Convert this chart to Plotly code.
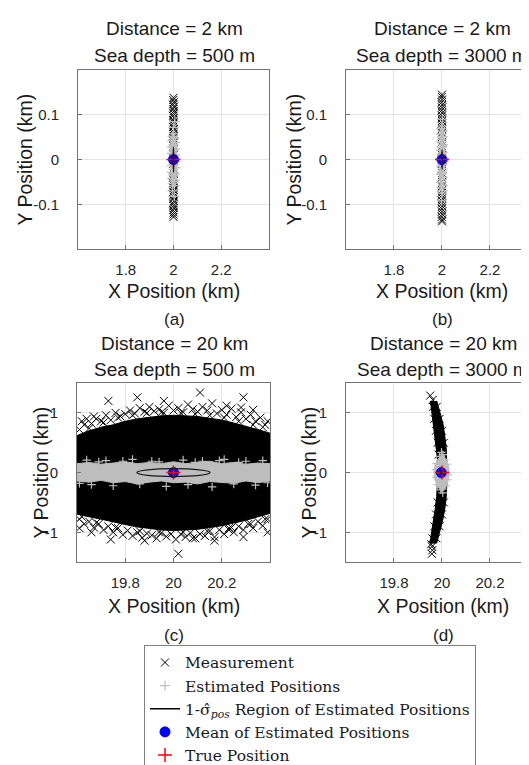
import plotly.graph_objects as go

# ------------------------------------------------------------------ data
PANEL_LABELS = ["(a)", "(b)", "(c)", "(d)"]
TITLE_LINE1 = ["Distance = 2 km", "Distance = 2 km", "Distance = 20 km", "Distance = 20 km"]
TITLE_LINE2 = ["Sea depth = 500 m", "Sea depth = 3000 m", "Sea depth = 500 m", "Sea depth = 3000 m"]

TRUE_X = [2.0, 2.0, 20.0, 20.0]
TRUE_Y = [0.0, 0.0, 0.0, 0.0]
MEAN_X = [2.0, 2.0, 20.0, 19.997]
MEAN_Y = [0.0, 0.0, 0.0, 0.0]
SIGMA_X = [0.0012, 0.0012, 0.152, 0.004]   # 1-sigma ellipse semi-axes (km)
SIGMA_Y = [0.028, 0.022, 0.066, 0.03]

X_TICKVALS_TOP = [1.8, 2.0, 2.2]
X_TICKTEXT_TOP = ["1.8", "2", "2.2"]
Y_TICKVALS_TOP = [-0.1, 0.0, 0.1]
Y_TICKTEXT_TOP = ["-0.1", "0", "0.1"]
X_TICKVALS_BOT = [19.8, 20.0, 20.2]
X_TICKTEXT_BOT = ["19.8", "20", "20.2"]
Y_TICKVALS_BOT = [-1, 0, 1]
Y_TICKTEXT_BOT = ["-1", "0", "1"]

# ---- panel (a): distance 2 km, depth 500 m
A_MEAS_X = [2.0, 1.999, 2.001, 1.9985, 2.0015, 1.999, 2.001, 2.0, 1.9985, 2.0015,
            1.999, 2.001, 2.0, 1.9985, 2.0015, 1.999, 2.001, 2.0, 1.999,
            2.001, 2.0, 1.999, 2.001, 2.0, 1.999, 2.001, 2.0, 1.999,
            2.0015, 1.9985, 2.001, 1.999, 2.0015, 1.9985, 2.0, 2.001, 1.999,
            2.0015, 1.9985, 2.0, 2.001, 1.999, 2.0005, 1.9995, 2.0]
A_MEAS_Y = [0.138, 0.133, 0.128, 0.123, 0.118, 0.113, 0.108, 0.103, 0.098, 0.093,
            0.088, 0.083, 0.078, 0.073, 0.068, 0.063, 0.058, 0.053, 0.048,
            0.040, 0.030, 0.020, 0.010, 0.000, -0.010, -0.020, -0.030, -0.040,
            -0.048, -0.053, -0.058, -0.063, -0.068, -0.073, -0.078, -0.083, -0.088,
            -0.093, -0.098, -0.103, -0.108, -0.113, -0.118, -0.123, -0.128]
A_EST_CORE_X = [2.0, 2.008, 2.012, 2.013, 2.012, 2.008, 2.0, 1.992, 1.988, 1.987, 1.988, 1.992]
A_EST_CORE_Y = [0.062, 0.045, 0.022, 0.0, -0.022, -0.045, -0.062, -0.045, -0.022, 0.0, 0.022, 0.045]
A_EST_X = [2.0, 1.996, 2.004, 1.994, 2.006, 2.0, 1.993, 2.007, 2.0, 1.992,
           2.008, 2.0, 1.992, 2.008, 2.0, 1.992, 2.008, 2.0, 1.993, 2.007,
           2.0, 1.994, 2.006, 2.0, 1.996, 2.004, 2.0, 2.006, 1.995, 2.003]
A_EST_Y = [0.058, 0.052, 0.048, 0.042, 0.038, 0.034, 0.028, 0.024, 0.020, 0.014,
           0.010, 0.006, 0.0, -0.004, -0.008, -0.014, -0.018, -0.022, -0.028, -0.032,
           -0.036, -0.042, -0.046, -0.050, -0.054, -0.058, 0.072, 0.085, -0.070, -0.082]

# ---- panel (b): distance 2 km, depth 3000 m
B_MEAS_X = [2.0, 1.9995, 2.0005, 1.999, 2.001, 2.0, 1.999, 2.001, 2.0, 1.9995,
            2.0005, 1.999, 2.001, 2.0,
            2.0, 1.999, 2.001, 2.0, 1.999, 2.001, 2.0, 1.999, 2.001, 2.0, 1.999, 2.001, 2.0,
            2.001, 1.999, 2.0, 2.001, 1.999, 2.0, 2.0005, 1.9995, 2.0, 2.001, 1.999, 2.0,
            2.0]
B_MEAS_Y = [0.145, 0.140, 0.134, 0.128, 0.122, 0.116, 0.110, 0.104, 0.098, 0.092,
            0.086, 0.080, 0.074, 0.068,
            0.06, 0.05, 0.04, 0.03, 0.02, 0.01, 0.0, -0.01, -0.02, -0.03, -0.04, -0.05, -0.06,
            -0.068, -0.074, -0.080, -0.086, -0.092, -0.098, -0.104, -0.110, -0.116, -0.122,
            -0.128, -0.134, -0.138]
B_EST_CORE_X = [2.0, 2.007, 2.01, 2.01, 2.01, 2.007, 2.0, 1.993, 1.99, 1.99, 1.99, 1.993]
B_EST_CORE_Y = [0.078, 0.06, 0.03, 0.0, -0.03, -0.06, -0.078, -0.06, -0.03, 0.0, 0.03, 0.06]
B_EST_X = [2.0, 1.997, 2.003, 1.996, 2.004, 2.0, 1.996, 2.004, 2.0, 1.996,
           2.004, 2.0, 1.996, 2.004, 2.0, 1.996, 2.004, 2.0, 1.996, 2.004,
           2.0, 1.996, 2.004, 1.997, 2.003, 2.0, 2.002, 1.998]
B_EST_Y = [0.075, 0.069, 0.063, 0.057, 0.051, 0.045, 0.039, 0.033, 0.027, 0.021,
           0.015, 0.009, 0.003, -0.003, -0.009, -0.015, -0.021, -0.027, -0.033, -0.039,
           -0.045, -0.051, -0.057, -0.063, -0.069, -0.075, 0.090, -0.092]

# ---- panel (c): distance 20 km, depth 500 m
C_MEAS_CORE_X = [19.58, 19.6, 19.65, 19.7, 19.75, 19.8, 19.85, 19.9, 19.95, 20.0, 20.05, 20.1,
                 20.15, 20.2, 20.25, 20.3, 20.35, 20.4, 20.42, 20.42, 20.4, 20.35, 20.3, 20.25,
                 20.2, 20.15, 20.1, 20.05, 20.0, 19.95, 19.9, 19.85, 19.8, 19.75, 19.7, 19.65,
                 19.6, 19.58]
C_MEAS_CORE_Y = [0.6, 0.62, 0.7, 0.76, 0.8, 0.86, 0.9, 0.93, 0.95, 0.96, 0.95, 0.94,
                 0.91, 0.88, 0.83, 0.78, 0.72, 0.66, 0.62, -0.66, -0.68, -0.74, -0.8, -0.85,
                 -0.89, -0.92, -0.95, -0.96, -0.97, -0.96, -0.94, -0.91, -0.87, -0.82, -0.78, -0.74,
                 -0.7, -0.68]
C_MEAS_X = [19.61, 19.63, 19.62, 19.66, 19.68, 19.70, 19.72, 19.74, 19.76, 19.78,
            19.80, 19.82, 19.84, 19.86, 19.88, 19.90, 19.92, 19.94, 19.96, 19.98,
            20.00, 20.02, 20.04, 20.06, 20.08, 20.10, 20.12, 20.14, 20.16, 20.18,
            20.20, 20.22, 20.24, 20.26, 20.28, 20.30, 20.32, 20.34, 20.36, 20.38,
            20.39, 20.37,
            19.73, 19.85, 19.96, 20.11, 20.29, 20.22, 20.28, 20.33, 19.67, 19.64,
            19.61, 19.63, 19.65, 19.67, 19.69, 19.71, 19.73, 19.75, 19.77, 19.79,
            19.81, 19.83, 19.85, 19.87, 19.89, 19.91, 19.93, 19.95, 19.97, 19.99,
            20.01, 20.03, 20.05, 20.07, 20.09, 20.11, 20.13, 20.15, 20.17, 20.19,
            20.21, 20.23, 20.25, 20.27, 20.29, 20.31, 20.33, 20.35, 20.37, 20.39,
            19.61, 19.74, 19.88, 20.02, 20.08, 20.17, 20.29, 20.23, 20.39, 19.66,
            19.65, 19.71, 19.77, 19.83, 19.89, 19.95, 20.03, 20.09, 20.15, 20.21,
            20.27, 20.33, 19.62, 19.68, 19.76, 19.86, 19.94, 20.04, 20.14, 20.24,
            20.32, 20.38]
C_MEAS_Y = [0.72, 0.80, 0.86, 0.82, 0.90, 0.86, 0.96, 0.88, 1.00, 0.94,
            0.98, 1.04, 0.99, 1.08, 1.02, 1.10, 1.03, 1.06, 1.00, 1.12,
            1.04, 1.08, 1.01, 1.14, 1.06, 1.02, 1.10, 1.04, 1.16, 0.99,
            1.05, 0.97, 1.07, 0.93, 1.01, 0.90, 0.97, 0.86, 0.92, 0.80,
            0.86, 0.76,
            1.20, 1.26, 1.20, 1.34, 1.26, 1.12, 1.09, 1.05, 0.94, 0.90,
            -0.78, -0.86, -0.82, -0.92, -0.86, -0.96, -0.90, -1.00, -0.93, -1.04,
            -0.97, -1.06, -1.00, -1.09, -1.02, -1.05, -1.10, -1.01, -1.07, -1.03,
            -1.12, -1.03, -1.08, -1.01, -1.10, -1.03, -1.06, -0.98, -1.08, -0.96,
            -1.03, -0.93, -1.00, -0.90, -0.96, -0.86, -0.93, -0.82, -0.89, -0.78,
            -0.93, -1.12, -1.14, -1.36, -1.10, -1.14, -1.08, -0.96, -1.0, -1.0,
            0.74, 0.84, 0.92, 0.96, 1.0, 1.01, 1.0, 0.98, 0.96, 0.92,
            0.86, 0.8, -0.74, -0.84, -0.92, -0.98, -1.0, -1.0, -0.98, -0.92,
            -0.86, -0.78]
C_EST_BAND_X = [19.58, 19.6, 19.65, 19.7, 19.75, 19.8, 19.85, 19.9, 19.95, 20.0, 20.05, 20.1,
                20.15, 20.2, 20.25, 20.3, 20.35, 20.4, 20.42, 20.42, 20.4, 20.35, 20.3, 20.25,
                20.2, 20.15, 20.1, 20.05, 20.0, 19.95, 19.9, 19.85, 19.8, 19.75, 19.7, 19.65,
                19.6, 19.58]
C_EST_BAND_Y = [0.15, 0.15, 0.17, 0.14, 0.16, 0.18, 0.15, 0.17, 0.15, 0.18, 0.15, 0.17,
                0.19, 0.15, 0.17, 0.14, 0.16, 0.15, 0.15, -0.14, -0.14, -0.17, -0.14, -0.18,
                -0.16, -0.15, -0.19, -0.16, -0.17, -0.14, -0.16, -0.19, -0.15, -0.17, -0.13, -0.16,
                -0.14, -0.14]
C_EST_X = [19.64, 19.72, 19.83, 19.91, 20.04, 20.12, 20.21, 20.30, 20.37,
           19.66, 19.75, 19.86, 19.97, 20.06, 20.16, 20.25, 20.34,
           19.69, 19.79, 19.94, 20.09, 20.19, 20.27, 19.61, 20.39]
C_EST_Y = [0.21, 0.20, 0.22, 0.19, 0.21, 0.19, 0.22, 0.19, 0.20,
           -0.20, -0.22, -0.19, -0.23, -0.20, -0.24, -0.19, -0.21,
           0.18, 0.19, 0.18, 0.17, 0.2, 0.17, -0.18, -0.17]

# ---- panel (d): distance 20 km, depth 3000 m
D_MEAS_BAND_X = [19.952, 19.958, 19.965, 19.972, 19.978, 19.982, 19.983, 19.982, 19.978,
                 19.972, 19.965, 19.957, 19.950, 19.978, 19.990, 20.003, 20.012, 20.018,
                 20.020, 20.020, 20.020, 20.018, 20.012, 20.005, 19.992, 19.978]
D_MEAS_BAND_Y = [1.2, 1.0, 0.8, 0.6, 0.4, 0.2, 0.0, -0.2, -0.4,
                 -0.6, -0.8, -1.0, -1.18, -1.18, -1.0, -0.8, -0.6, -0.4,
                 -0.2, 0.0, 0.2, 0.4, 0.6, 0.8, 1.0, 1.2]
D_MEAS_X = [19.951, 19.962, 19.962, 19.968, 19.975, 19.982, 19.986, 19.982, 19.975, 19.968,
            19.960, 19.955, 19.958, 19.958, 19.960, 19.977, 19.990, 20.000, 20.008, 20.008,
            20.000, 19.990, 19.978]
D_MEAS_Y = [1.29, 1.22, 1.1, 0.9, 0.7, 0.5, 0.3, -0.5, -0.7, -0.9,
            -1.1, -1.2, -1.24, -1.36, -1.3, -1.1, -0.9, -0.7, -0.5, 0.5,
            0.7, 0.9, 1.1]
D_EST_BLOB_X = [20.0, 20.012, 20.02, 20.028, 20.03, 20.028, 20.02, 20.012, 20.0, 19.988,
                19.976, 19.969, 19.967, 19.969, 19.976, 19.988]
D_EST_BLOB_Y = [0.32, 0.25, 0.18, 0.1, 0.0, -0.1, -0.18, -0.26, -0.32, -0.26,
                -0.18, -0.1, 0.0, 0.1, 0.18, 0.25]
D_EST_X = [19.998, 20.004, 19.990, 20.010, 19.978, 20.022, 19.974, 20.026, 19.975, 20.024,
           19.982, 20.016, 19.995, 20.003]
D_EST_Y = [0.34, 0.30, 0.27, 0.22, 0.15, 0.14, 0.05, -0.04, -0.08, -0.12,
           -0.20, -0.22, -0.29, -0.34]

LEGEND_NAMES = ["Measurement", "Estimated Positions",
                "1-σ\u0302<sub><i>pos</i></sub> Region of Estimated Positions",
                "Mean of Estimated Positions", "True Position"]

# ------------------------------------------------------------------ styling
W, H = 529, 765
MEAS_COLOR = "#000000"
EST_COLOR = "#bdbdbd"
SANS = "Liberation Sans, Arial, sans-serif"
TXT = "#262626"

panels = [
    dict(meas_core=None, meas=(A_MEAS_X, A_MEAS_Y), est_poly=(A_EST_CORE_X, A_EST_CORE_Y),
         est=(A_EST_X, A_EST_Y)),
    dict(meas_core=None, meas=(B_MEAS_X, B_MEAS_Y), est_poly=(B_EST_CORE_X, B_EST_CORE_Y),
         est=(B_EST_X, B_EST_Y)),
    dict(meas_core=(C_MEAS_CORE_X, C_MEAS_CORE_Y), meas=(C_MEAS_X, C_MEAS_Y),
         est_poly=(C_EST_BAND_X, C_EST_BAND_Y), est=(C_EST_X, C_EST_Y)),
    dict(meas_core=(D_MEAS_BAND_X, D_MEAS_BAND_Y), meas=(D_MEAS_X, D_MEAS_Y),
         est_poly=(D_EST_BLOB_X, D_EST_BLOB_Y), est=(D_EST_X, D_EST_Y)),
]

# plot box of each panel in pixels (left, right, top, bottom)
BOX = [(70, 261, 63, 245), (338, 529, 63, 245), (69, 262, 381, 563), (338, 529, 381, 563)]
XRANGE = [[1.6, 2.4], [1.6, 2.396], [19.6, 20.4], [19.6, 20.396]]
YRANGE = [[-0.2, 0.2], [-0.2, 0.2], [-1.5, 1.5], [-1.5, 1.5]]
XCENTER_PX = [166, 434, 166, 435]
YTITLE_PX = [17, 286, 33, 301]
ROW_Y = [dict(t1=21, t2=48, xt=288, lab=316), dict(t1=341, t2=367, xt=608, lab=637)]

fig = go.Figure()

for i, p in enumerate(panels):
    xa = "x" if i == 0 else f"x{i+1}"
    ya = "y" if i == 0 else f"y{i+1}"
    first = i == 0
    if p["meas_core"] is not None:
        fig.add_trace(go.Scatter(x=p["meas_core"][0], y=p["meas_core"][1], mode="lines",
                                 fill="toself", fillcolor=MEAS_COLOR,
                                 line=dict(color=MEAS_COLOR, width=1),
                                 showlegend=False, hoverinfo="skip", xaxis=xa, yaxis=ya))
    fig.add_trace(go.Scatter(x=p["meas"][0], y=p["meas"][1], mode="markers",
                             name=LEGEND_NAMES[0], legendrank=1, showlegend=first,
                             marker=dict(symbol="x-thin-open", size=8, color=MEAS_COLOR,
                                         line=dict(color=MEAS_COLOR, width=1)),
                             xaxis=xa, yaxis=ya))
    if p["est_poly"] is not None:
        fig.add_trace(go.Scatter(x=p["est_poly"][0], y=p["est_poly"][1], mode="lines",
                                 fill="toself", fillcolor=EST_COLOR,
                                 line=dict(color=EST_COLOR, width=1),
                                 showlegend=False, hoverinfo="skip", xaxis=xa, yaxis=ya))
    fig.add_trace(go.Scatter(x=p["est"][0], y=p["est"][1], mode="markers",
                             name=LEGEND_NAMES[1], legendrank=2, showlegend=first,
                             marker=dict(symbol="cross-thin-open", size=6 if i >= 2 else 7,
                                         color=EST_COLOR,
                                         line=dict(color=EST_COLOR, width=1.2)),
                             xaxis=xa, yaxis=ya))
    # 1-sigma region as an ellipse shape in data coordinates
    fig.add_shape(type="circle", xref=xa, yref=ya,
                  x0=MEAN_X[i] - SIGMA_X[i], x1=MEAN_X[i] + SIGMA_X[i],
                  y0=MEAN_Y[i] - SIGMA_Y[i], y1=MEAN_Y[i] + SIGMA_Y[i],
                  line=dict(color="#1a1a1a", width=1.2), layer="above")
    if first:
        fig.add_trace(go.Scatter(x=[None], y=[None], mode="lines", name=LEGEND_NAMES[2],
                                 legendrank=3, line=dict(color="black", width=1.3),
                                 xaxis=xa, yaxis=ya))
    fig.add_trace(go.Scatter(x=[MEAN_X[i]], y=[MEAN_Y[i]], mode="markers",
                             name=LEGEND_NAMES[3], legendrank=4, showlegend=first,
                             marker=dict(symbol="circle", size=10, color="#0000ff",
                                         line=dict(color="#0000ff", width=1)),
                             xaxis=xa, yaxis=ya))
    fig.add_trace(go.Scatter(x=[TRUE_X[i]], y=[TRUE_Y[i]], mode="markers",
                             name=LEGEND_NAMES[4], legendrank=5, showlegend=first,
                             marker=dict(symbol="cross-thin-open", size=10, color="#ff0000",
                                         line=dict(color="#ff0000", width=1.5)),
                             xaxis=xa, yaxis=ya))

axis_common = dict(showline=True, linecolor="#737373", linewidth=1, ticks="inside",
                   ticklen=4, tickcolor="#737373", showgrid=True, gridcolor="#e4e4e4",
                   gridwidth=1, zeroline=False,
                   tickfont=dict(family=SANS, size=15, color=TXT))

layout = dict(width=W, height=H, margin=dict(l=0, r=0, t=0, b=0),
              paper_bgcolor="white", plot_bgcolor="white", showlegend=True)
annotations = []
for i in range(4):
    l, r, t, b = BOX[i]
    top_row = i < 2
    xkey = "xaxis" if i == 0 else f"xaxis{i+1}"
    ykey = "yaxis" if i == 0 else f"yaxis{i+1}"
    ya = "y" if i == 0 else f"y{i+1}"
    xa = "x" if i == 0 else f"x{i+1}"
    layout[xkey] = dict(axis_common, domain=[l / W, min(r / W, 1.0)], range=XRANGE[i],
                        anchor=ya, mirror=True,
                        tickvals=X_TICKVALS_TOP if top_row else X_TICKVALS_BOT,
                        ticktext=X_TICKTEXT_TOP if top_row else X_TICKTEXT_BOT,
                        ticklabelstandoff=7)
    layout[ykey] = dict(axis_common, domain=[1 - b / H, 1 - t / H], range=YRANGE[i],
                        anchor=xa, mirror=(i % 2 == 0),
                        tickvals=Y_TICKVALS_TOP if top_row else Y_TICKVALS_BOT,
                        ticktext=Y_TICKTEXT_TOP if top_row else Y_TICKTEXT_BOT,
                        ticklabelstandoff=15)
    row = ROW_Y[0] if top_row else ROW_Y[1]
    cx = XCENTER_PX[i] / W
    for txt, ypx, fs in [(TITLE_LINE1[i], row["t1"], 19), (TITLE_LINE2[i], row["t2"], 19),
                         ("X Position (km)", row["xt"], 19.5), (PANEL_LABELS[i], row["lab"], 17)]:
        annotations.append(dict(text=txt, x=cx, y=1 - ypx / H, xref="paper", yref="paper",
                                xanchor="center", yanchor="middle", showarrow=False,
                                font=dict(family=SANS, size=fs, color="#1a1a1a")))
    annotations.append(dict(text="Y Position (km)", x=YTITLE_PX[i] / W,
                            y=1 - (t + b) / 2 / H, xref="paper", yref="paper",
                            xanchor="center", yanchor="middle", textangle=-90,
                            showarrow=False, font=dict(family=SANS, size=19.5, color="#1a1a1a")))
layout["annotations"] = annotations
layout["legend"] = dict(x=136 / W, y=1 - 647 / H, xanchor="left", yanchor="top",
                        bgcolor="white", bordercolor="#808080", borderwidth=1,
                        font=dict(family="DejaVu Serif, Liberation Serif, serif", size=15.5,
                                  color="#1a1a1a"),
                        itemwidth=30, tracegroupgap=0, traceorder="normal")
fig.update_layout(**layout)

fig.write_html("out.html")
